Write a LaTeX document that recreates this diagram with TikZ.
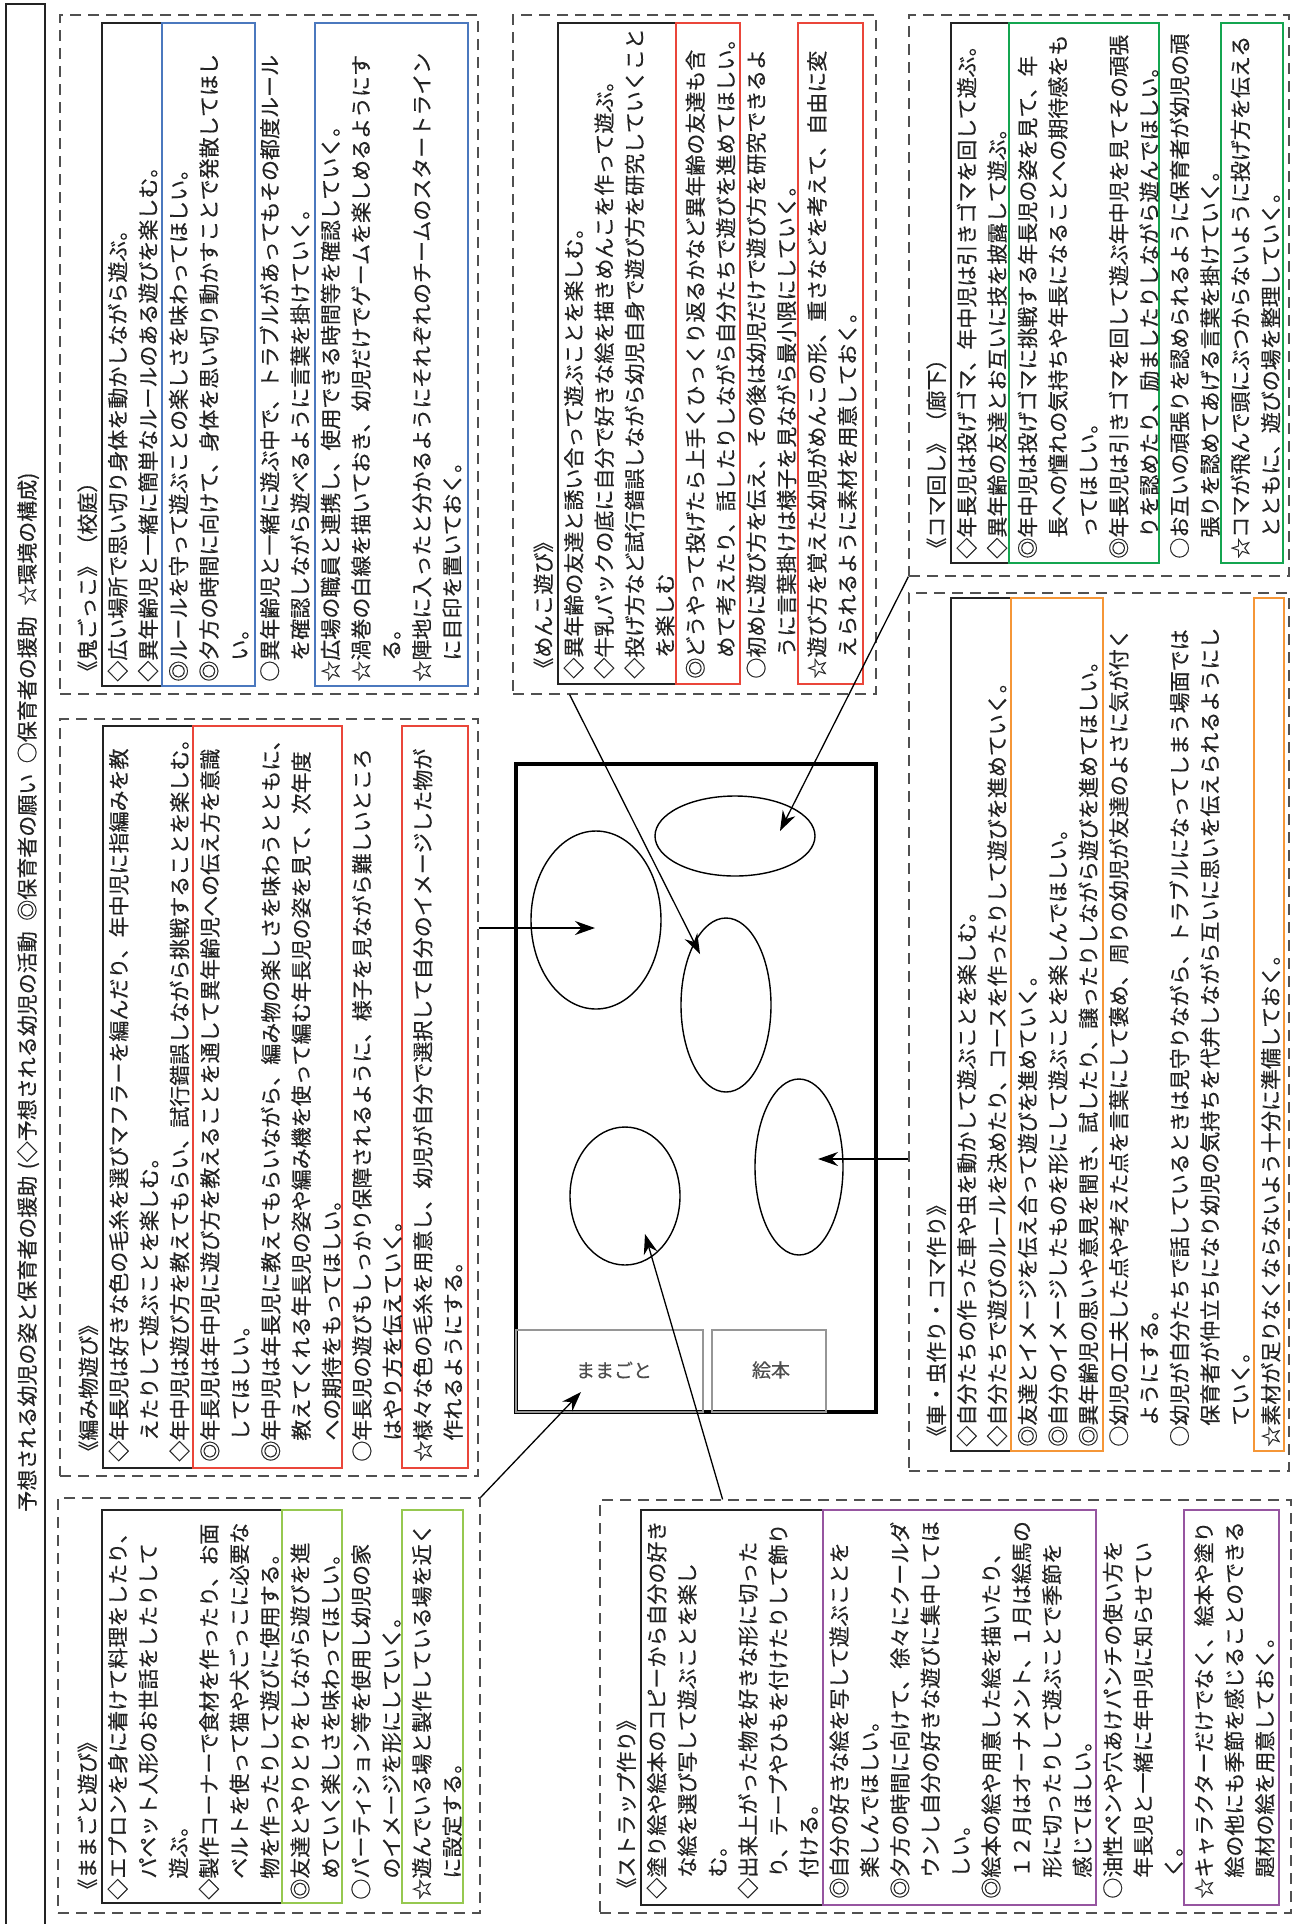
\documentclass[tikz,border=0pt]{standalone}
\usepackage{fontspec}
\setmainfont{Noto Sans CJK JP}[FakeBold=0.3]
\usetikzlibrary{arrows.meta,calc,fit,shapes.geometric}
\definecolor{inkdark}{RGB}{35,35,35}
\definecolor{dashgrey}{RGB}{80,80,80}
\definecolor{frameblue}{RGB}{75,120,190}
\definecolor{framered}{RGB}{234,70,58}
\definecolor{framegreen}{RGB}{20,165,80}
\definecolor{frameorange}{RGB}{245,150,55}
\definecolor{framelime}{RGB}{150,200,80}
\definecolor{framepurple}{RGB}{150,85,160}
\definecolor{shelfgrey}{RGB}{150,150,150}
\tikzset{
  flow/.style={-{Stealth[length=10pt,width=7pt]}, line width=0.65pt, draw=black},
  groupbox/.style={draw=dashgrey, dash pattern=on 5.5pt off 3.5pt, line width=0.6pt, inner sep=0pt},
  actbox/.style={draw=inkdark, line width=0.6pt, inner sep=0pt},
  colbox/.style={draw=#1, line width=0.7pt, inner sep=0pt},
  plantext/.style={rotate=90, anchor=north west, inner sep=0pt, align=left,
    text=inkdark, font=\fontsize{10.5}{15.2}\selectfont},
  headbar/.style={draw=inkdark, line width=0.8pt, inner sep=0pt},
  headtext/.style={rotate=90, anchor=west, inner sep=0pt, text=inkdark,
    font=\fontsize{10.5}{15.2}\selectfont},
  oval/.style={ellipse, draw=black, line width=0.7pt, inner sep=0pt},
  shelf/.style={draw=shelfgrey, line width=0.6pt, inner sep=0pt},
  shelflabel/.style={inner sep=0pt, text=black!70, font=\fontsize{9.5}{11}\selectfont}
}

\begin{document}
\begin{tikzpicture}[x=0.5pt, y=-0.5pt]
  \fill[white] (0,0) rectangle (1300,1924);
  \useasboundingbox (0,0) rectangle (1300,1924);

  % header strip
  \node[headbar, fit={(6,4) (45,1950)}] (head) {};
  \node[headtext] (headText) at (28,1512) {予想される幼児の姿と保育者の援助\hspace{0.3em}(◇予想される幼児の活動\hspace{0.5em}◎保育者の願い\hspace{0.5em}○保育者の援助\hspace{0.5em}☆環境の構成)};

  % oni gokko
  \node[groupbox, fit={(60,15) (478,694)}] (oni) {};
  \node[actbox, fit={(102,23) (162,686)}] (oniAct) {};
  \node[colbox=frameblue, fit={(162,23) (255,686)}] (oniWish) {};
  \node[colbox=frameblue, fit={(315,23) (468,686)}] (oniEnv) {};
  \node[plantext] (oniText) at (73.6,682) {\strut《鬼ごっこ》（校庭）\\
    ◇広い場所で思い切り身体を動かしながら遊ぶ。\\
    ◇異年齢児と一緒に簡単なルールのある遊びを楽しむ。\\
    ◎ルールを守って遊ぶことの楽しさを味わってほしい。\\
    ◎夕方の時間に向けて、身体を思い切り動かすことで発散してほし\\
    　い。\\
    ○異年齢児と一緒に遊ぶ中で、トラブルがあってもその都度ルール\\
    　を確認しながら遊べるように言葉を掛けていく。\\
    ☆広場の職員と連携し、使用できる時間等を確認していく。\\
    ☆渦巻の白線を描いておき、幼児だけでゲームを楽しめるようにす\\
    　る。\\
    ☆陣地に入ったと分かるようにそれぞれのチームのスタートライン\\
    　に目印を置いておく。};

  % amimono
  \node[groupbox, fit={(60,719) (478,1476)}] (amimono) {};
  \node[actbox, fit={(103,726) (193,1468)}] (amiAct) {};
  \node[colbox=framered, fit={(193,726) (342,1468)}] (amiWish) {};
  \node[colbox=framered, fit={(402,726) (468,1468)}] (amiEnv) {};
  \node[plantext] (amiText) at (74.6,1462) {\strut《編み物遊び》\\
    ◇年長児は好きな色の毛糸を選びマフラーを編んだり、年中児に指編みを教\\
    　えたりして遊ぶことを楽しむ。\\
    ◇年中児は遊び方を教えてもらい、試行錯誤しながら挑戦することを楽しむ。\\
    ◎年長児は年中児に遊び方を教えることを通して異年齢児への伝え方を意識\\
    　してほしい。\\
    ◎年中児は年長児に教えてもらいながら、編み物の楽しさを味わうとともに、\\
    　教えてくれる年長児の姿や編み機を使って編む年長児の姿を見て、次年度\\
    　への期待をもってほしい。\\
    ○年長児の遊びもしっかり保障されるように、様子を見ながら難しいところ\\
    　はやり方を伝えていく。\\
    ☆様々な色の毛糸を用意し、幼児が自分で選択して自分のイメージした物が\\
    　作れるようにする。};

  % mamagoto
  \node[groupbox, fit={(58,1498) (480,1913)}] (mamagoto) {};
  \node[actbox, fit={(102,1510) (282,1903)}] (mamaAct) {};
  \node[colbox=framelime, fit={(282,1510) (342,1903)}] (mamaWish) {};
  \node[colbox=framelime, fit={(402,1510) (463,1903)}] (mamaEnv) {};
  \node[plantext] (mamaText) at (73.6,1900) {\strut《ままごと遊び》\\
    ◇エプロンを身に着けて料理をしたり、\\
    　パペット人形のお世話をしたりして\\
    　遊ぶ。\\
    ◇製作コーナーで食材を作ったり、お面\\
    　ベルトを使って猫や犬ごっこに必要な\\
    　物を作ったりして遊びに使用する。\\
    ◎友達とやりとりをしながら遊びを進\\
    　めていく楽しさを味わってほしい。\\
    ○パーティション等を使用し幼児の家\\
    　のイメージを形にしていく。\\
    ☆遊んでいる場と製作している場を近く\\
    　に設定する。};

  % menko
  \node[groupbox, fit={(513,15) (876,694)}] (menko) {};
  \node[actbox, fit={(558,23) (676,684)}] (menkoAct) {};
  \node[colbox=framered, fit={(676,23) (740,684)}] (menkoWish) {};
  \node[colbox=framered, fit={(798,23) (863,684)}] (menkoEnv) {};
  \node[plantext] (menkoText) at (529.6,679) {\strut《めんこ遊び》\\
    ◇異年齢の友達と誘い合って遊ぶことを楽しむ。\\
    ◇牛乳パックの底に自分で好きな絵を描きめんこを作って遊ぶ。\\
    ◇投げ方など試行錯誤しながら幼児自身で遊び方を研究していくこと\\
    　を楽しむ\\
    ◎どうやって投げたら上手くひっくり返るかなど異年齢の友達も含\\
    　めて考えたり、話したりしながら自分たちで遊びを進めてほしい。\\
    ○初めに遊び方を伝え、その後は幼児だけで遊び方を研究できるよ\\
    　うに言葉掛けは様子を見ながら最小限にしていく。\\
    ☆遊び方を覚えた幼児がめんこの形、重さなどを考えて、自由に変\\
    　えられるように素材を用意しておく。};

  % koma mawashi
  \node[groupbox, fit={(909,15) (1289,576)}] (koma) {};
  \node[actbox, fit={(951,23) (1009,563)}] (komaAct) {};
  \node[colbox=framegreen, fit={(1009,23) (1159,563)}] (komaWish) {};
  \node[colbox=framegreen, fit={(1221,23) (1283,563)}] (komaEnv) {};
  \node[plantext] (komaText) at (922.6,559) {\strut《コマ回し》（廊下）\\
    ◇年長児は投げゴマ、年中児は引きゴマを回して遊ぶ。\\
    ◇異年齢の友達とお互いに技を披露して遊ぶ。\\
    ◎年中児は投げゴマに挑戦する年長児の姿を見て、年\\
    　長への憧れの気持ちや年長になることへの期待感をも\\
    　ってほしい。\\
    ◎年長児は引きゴマを回して遊ぶ年中児を見てその頑張\\
    　りを認めたり、励ましたりしながら遊んでほしい。\\
    ○お互いの頑張りを認められるように保育者が幼児の頑\\
    　張りを認めてあげる言葉を掛けていく。\\
    ☆コマが飛んで頭にぶつからないように投げ方を伝える\\
    　とともに、遊びの場を整理していく。};

  % kuruma
  \node[groupbox, fit={(909,593) (1289,1471)}] (kuruma) {};
  \node[actbox, fit={(951,598) (1011,1451)}] (kuruAct) {};
  \node[colbox=frameorange, fit={(1011,598) (1103,1451)}] (kuruWish) {};
  \node[colbox=frameorange, fit={(1254,598) (1284,1451)}] (kuruEnv) {};
  \node[plantext] (kuruText) at (922.6,1447) {\strut《車・虫作り・コマ作り》\\
    ◇自分たちの作った車や虫を動かして遊ぶことを楽しむ。\\
    ◇自分たちで遊びのルールを決めたり、コースを作ったりして遊びを進めていく。\\
    ◎友達とイメージを伝え合って遊びを進めていく。\\
    ◎自分のイメージしたものを形にして遊ぶことを楽しんでほしい。\\
    ◎異年齢児の思いや意見を聞き、試したり、譲ったりしながら遊びを進めてほしい。\\
    ○幼児の工夫した点や考えた点を言葉にして褒め、周りの幼児が友達のよさに気が付く\\
    　ようにする。\\
    ○幼児が自分たちで話しているときは見守りながら、トラブルになってしまう場面では\\
    　保育者が仲立ちになり幼児の気持ちを代弁しながら互いに思いを伝えられるようにし\\
    　ていく。\\
    ☆素材が足りなくならないよう十分に準備しておく。};

  % strap
  \node[groupbox, fit={(600,1500) (1291,1913)}] (strap) {};
  \node[actbox, fit={(641,1510) (823,1905)}] (strapAct) {};
  \node[colbox=framepurple, fit={(823,1510) (1096,1905)}] (strapWish) {};
  \node[colbox=framepurple, fit={(1184,1510) (1279,1905)}] (strapEnv) {};
  \node[plantext] (strapText) at (612.6,1899) {\strut《ストラップ作り》\\
    ◇塗り絵や絵本のコピーから自分の好き\\
    　な絵を選び写して遊ぶことを楽し\\
    　む。\\
    ◇出来上がった物を好きな形に切った\\
    　り、テープやひもを付けたりして飾り\\
    　付ける。\\
    ◎自分の好きな絵を写して遊ぶことを\\
    　楽しんでほしい。\\
    ◎夕方の時間に向けて、徐々にクールダ\\
    　ウンし自分の好きな遊びに集中してほ\\
    　しい。\\
    ◎絵本の絵や用意した絵を描いたり、\\
    　１２月はオーナメント、１月は絵馬の\\
    　形に切ったりして遊ぶことで季節を\\
    　感じてほしい。\\
    ○油性ペンや穴あけパンチの使い方を\\
    　年長児と一緒に年中児に知らせてい\\
    　く。\\
    ☆キャラクターだけでなく、絵本や塗り\\
    　絵の他にも季節を感じることのできる\\
    　題材の絵を用意しておく。};

  % room plan
  \node[draw=black, line width=2.2pt, inner sep=0pt, fit={(516,764) (876,1412)}] (room) {};
  \node[shelf, fit={(516,1330) (703,1412)}] (kitchen) {};
  \node[shelf, fit={(712,1330) (826,1412)}] (books) {};
  \node[shelflabel] (kitchenLabel) at (614,1370) {ままごと};
  \node[shelflabel] (booksLabel) at (771,1370) {絵本};
  \node[oval, minimum width=80pt, minimum height=40pt] (ovalA) at (735,836) {};
  \node[oval, minimum width=65pt, minimum height=89pt] (ovalB) at (596,920) {};
  \node[oval, minimum width=45pt, minimum height=87pt] (ovalC) at (726,1005) {};
  \node[oval, minimum width=44pt, minimum height=88pt] (ovalD) at (799,1167) {};
  \node[oval, minimum width=55pt, minimum height=69pt] (ovalE) at (625,1196) {};

  % arrow tips
  \coordinate (tipA) at ($(ovalA.center)+(45,-5)$);
  \coordinate (tipB) at ($(ovalB.center)+(-1,8)$);
  \coordinate (tipC) at ($(ovalC.center)+(-26,-51)$);
  \coordinate (tipD) at ($(ovalD.center)+(19,-8)$);
  \coordinate (tipE) at ($(ovalE.center)+(20,38)$);
  \coordinate (tipK) at ($(kitchenLabel.center)+(-33,22)$);

  \draw[flow] (amimono.east |- tipB) -- (tipB);
  \draw[flow] ($(menko.south west)!0.157!(menko.south east)$) -- (tipC);
  \draw[flow] (koma.south west) -- (tipA);
  \draw[flow] (kuruma.west |- tipD) -- (tipD);
  \draw[flow] (mamagoto.north east) -- (tipK);
  \draw[flow] ($(strap.north west)!0.178!(strap.north east)$) -- (tipE);
\end{tikzpicture}
\end{document}
